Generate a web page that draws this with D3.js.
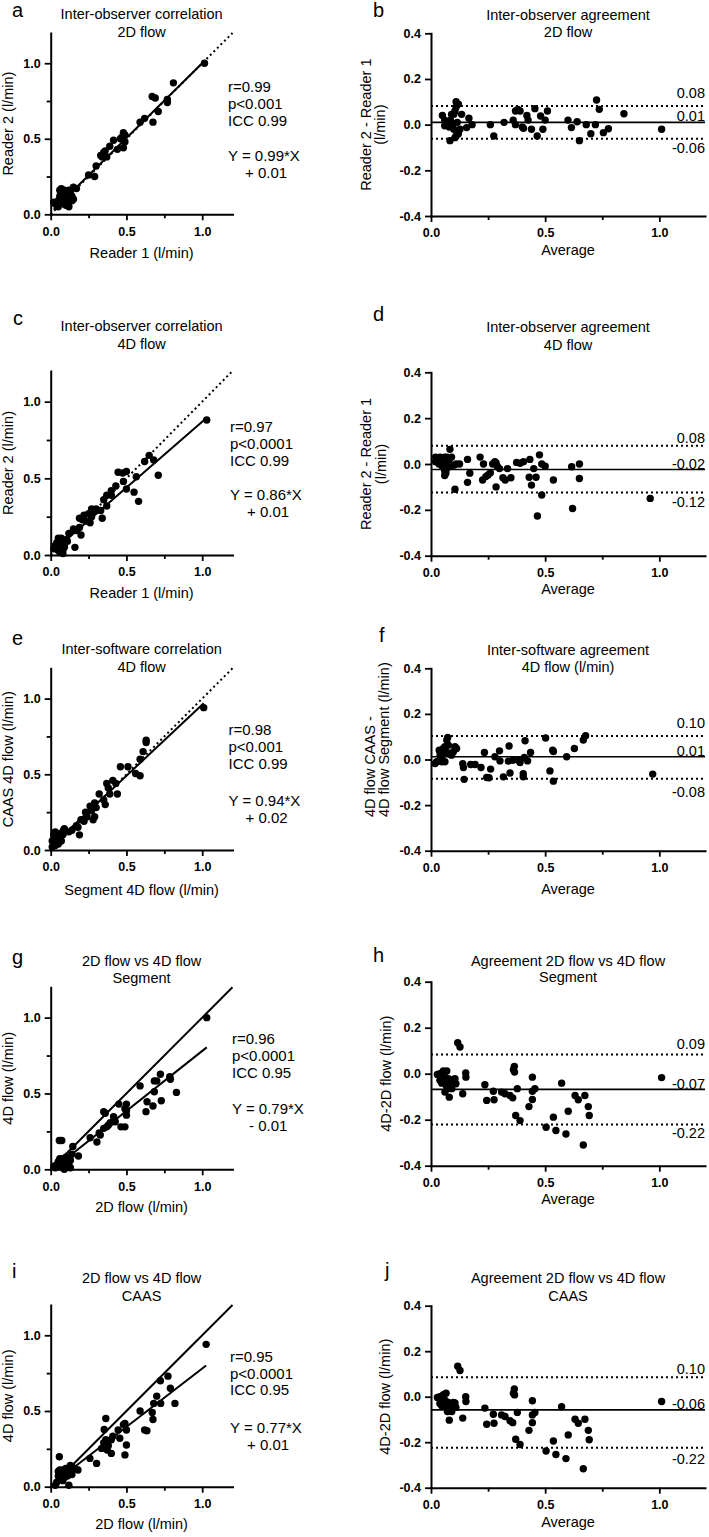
<!DOCTYPE html>
<html><head><meta charset="utf-8">
<script src="https://cdn.jsdelivr.net/npm/d3@7"></script>
<style>body{margin:0;background:#fff}</style>
</head><body>
<svg id="chart" width="709" height="1537"></svg>
<script>
// ---------------- DATA ----------------
// Panel a: inter-observer correlation 2D flow
const aReader1 = [1.015,0.81,0.67,0.69,0.77,0.77,0.71,0.675,0.62,0.59,0.48,0.49,0.46,0.47,0.49,0.48,0.415,0.44,0.36,0.39,0.33,0.34,0.35,0.37,0.30,0.29,0.25,0.15,0.17,
  0.02,0.03,0.04,0.05,0.05,0.06,0.06,0.07,0.07,0.08,0.08,0.09,0.09,0.10,0.10,0.11,0.11,0.12,0.12,0.13,0.13,0.14,0.14,0.15,0.10,0.08,0.12];
const aReader2 = [1.0,0.87,0.78,0.77,0.76,0.74,0.68,0.61,0.635,0.61,0.54,0.525,0.50,0.51,0.48,0.44,0.49,0.43,0.42,0.45,0.39,0.38,0.41,0.38,0.32,0.25,0.26,0.18,0.17,
  0.08,0.07,0.06,0.05,0.09,0.12,0.16,0.17,0.10,0.14,0.07,0.12,0.16,0.09,0.15,0.13,0.06,0.05,0.11,0.10,0.14,0.09,0.12,0.10,0.06,0.10,0.16];
// Panel b: inter-observer agreement 2D flow
const bAverage = [0.05,0.06,0.065,0.07,0.06,0.075,0.08,0.085,0.09,0.09,0.095,0.10,0.105,0.11,0.11,0.12,0.083,0.105,0.11,0.12,0.127,0.134,0.10,0.115,0.156,0.166,0.18,
  0.26,0.275,0.32,0.36,0.37,0.38,0.39,0.37,0.40,0.405,0.42,0.425,0.44,0.455,0.465,0.48,0.49,0.50,0.51,
  0.60,0.615,0.64,0.65,0.68,0.70,0.725,0.737,0.72,0.755,0.777,0.845,1.01];
const bDiff = [0.04,0.02,0.005,0.0,-0.005,0.01,-0.01,0.02,-0.005,0.045,0.0,0.045,0.06,0.077,0.10,0.09,-0.07,-0.057,-0.05,-0.04,-0.02,0.045,-0.02,0.01,-0.013,0.028,0.0,
  0.0,-0.05,0.01,0.02,0.06,0.067,0.06,0.0,-0.01,-0.016,0.04,0.02,-0.02,0.07,-0.05,0.038,-0.02,0.02,0.06,
  0.02,-0.013,0.013,-0.07,0.0,-0.04,0.108,0.067,0.0,-0.035,-0.018,0.048,-0.02];
const bLimits = [0.082, 0.01, -0.062];
const bLimitLabels = ["0.08", "0.01", "-0.06"];
// Panel c: inter-observer correlation 4D flow
const cReader1 = [1.03,0.65,0.68,0.71,0.62,0.565,0.55,0.58,0.445,0.475,0.50,0.48,0.50,0.43,0.40,0.37,0.40,0.35,0.37,0.33,0.34,0.30,0.28,0.27,0.26,0.25,0.27,0.21,0.19,0.22,0.19,0.17,0.15,0.12,0.16,0.20,0.30,0.24,
  0.02,0.03,0.04,0.05,0.06,0.06,0.07,0.08,0.09,0.10,0.05,0.04,0.08,0.07,0.09,0.03,0.11,0.06,0.08];
const cReader2 = [0.88,0.65,0.62,0.52,0.61,0.51,0.41,0.35,0.54,0.535,0.545,0.48,0.43,0.45,0.42,0.39,0.39,0.36,0.32,0.29,0.24,0.29,0.28,0.25,0.21,0.27,0.30,0.23,0.24,0.26,0.18,0.16,0.17,0.14,0.05,0.13,0.30,0.22,
  0.04,0.05,0.08,0.11,0.09,0.06,0.04,0.03,0.05,0.10,0.03,0.04,0.08,0.11,0.06,0.06,0.09,0.02,0.01];
// Panel d: inter-observer agreement 4D flow
const dAverage = [0.02,0.02,0.03,0.035,0.04,0.045,0.05,0.05,0.055,0.06,0.06,0.065,0.07,0.07,0.075,0.08,0.083,0.085,0.09,0.06,0.065,0.10,
  0.105,0.11,0.125,0.16,0.16,0.17,0.215,0.23,0.226,0.24,0.25,0.26,0.27,0.28,0.285,0.29,0.30,0.285,0.315,0.325,0.335,0.35,
  0.375,0.39,0.405,0.433,0.43,0.44,0.45,0.46,0.475,0.485,0.485,0.50,0.466,0.536,0.616,0.65,0.65,0.62,0.96];
const dDiff = [0.03,0.01,0.02,0.0,0.03,0.01,-0.01,0.02,0.0,0.03,-0.03,0.01,-0.02,0.03,0.0,0.02,0.064,-0.01,0.03,-0.05,-0.04,-0.005,
  -0.11,0.0,0.0,0.02,-0.08,-0.04,0.03,0.0,-0.07,-0.055,-0.048,-0.038,0.0,0.01,0.005,-0.01,-0.02,-0.10,-0.06,-0.07,-0.02,-0.06,
  0.007,0.003,0.01,0.02,-0.058,-0.092,-0.02,-0.058,0.04,-0.135,0.0,-0.01,-0.227,-0.07,-0.012,0.0,-0.063,-0.194,-0.15];
const dLimits = [0.08, -0.024, -0.124];
const dLimitLabels = ["0.08", "-0.02", "-0.12"];
// Panel e: inter-software correlation 4D flow
const eSegment = [1.01,0.63,0.63,0.61,0.59,0.59,0.56,0.51,0.46,0.43,0.41,0.37,0.38,0.44,0.39,0.36,0.35,0.32,0.29,0.29,0.28,0.26,0.24,0.23,0.20,0.18,0.19,0.14,0.085,0.12,0.30,0.27,0.22,0.17,
  0.01,0.02,0.02,0.03,0.03,0.04,0.04,0.05,0.05,0.06,0.07,0.08,0.01,0.03,0.06,0.09];
const eCaas = [0.94,0.725,0.71,0.65,0.60,0.49,0.505,0.55,0.55,0.44,0.46,0.44,0.41,0.37,0.37,0.30,0.33,0.37,0.31,0.22,0.20,0.29,0.22,0.25,0.20,0.15,0.10,0.13,0.13,0.12,0.28,0.26,0.19,0.16,
  0.02,0.05,0.10,0.12,0.08,0.06,0.11,0.04,0.09,0.07,0.06,0.10,0.06,0.03,0.11,0.14];
// Panel f: inter-software agreement 4D flow
const fAverage = [0.018,0.025,0.036,0.04,0.047,0.054,0.061,0.066,0.069,0.073,0.076,0.061,0.08,0.09,0.098,0.105,0.112,0.047,0.04,0.054,
  0.139,0.142,0.145,0.174,0.193,0.219,0.234,0.244,0.254,0.261,0.28,0.30,0.302,0.317,0.339,0.342,0.346,0.358,0.382,0.39,0.404,0.404,0.409,0.412,0.423,0.436,
  0.502,0.521,0.533,0.536,0.536,0.594,0.628,0.667,0.677,0.971];
const fDiff = [-0.018,-0.01,0.041,0.019,0.012,0.048,0.056,0.034,0.085,0.097,0.063,-0.01,0.026,0.019,0.034,0.056,0.048,-0.01,0.034,0.026,
  -0.018,-0.035,-0.087,-0.022,-0.022,-0.035,0.031,-0.079,-0.08,-0.042,0.012,0.038,-0.006,-0.076,-0.007,0.059,-0.059,-0.003,-0.003,-0.013,-0.062,-0.076,0.009,0.082,-0.006,0.031,
  0.094,-0.05,0.041,0.035,-0.095,0.012,0.048,0.085,0.104,-0.064];
const fLimits = [0.103, 0.012, -0.084];
const fLimitLabels = ["0.10", "0.01", "-0.08"];
// Panel g: 2D flow vs 4D flow, Segment
const g2D = [1.03,0.83,0.724,0.786,0.79,0.684,0.70,0.684,0.73,0.675,0.636,0.629,0.59,0.50,0.50,0.49,0.50,0.464,0.49,0.45,0.415,0.426,0.393,0.37,0.35,0.36,0.35,0.327,0.305,0.26,0.183,0.146,0.057,0.073,0.38,0.32,
  0.02,0.03,0.04,0.05,0.06,0.06,0.07,0.08,0.08,0.09,0.10,0.10,0.11,0.12,0.12,0.13,0.13,0.14,0.09,0.07];
const g4D = [1.0,0.507,0.627,0.61,0.594,0.583,0.583,0.511,0.452,0.417,0.445,0.38,0.55,0.43,0.386,0.40,0.357,0.28,0.28,0.43,0.346,0.314,0.307,0.28,0.27,0.37,0.38,0.226,0.18,0.208,0.088,0.15,0.19,0.19,0.29,0.24,
  0.02,0.01,0.03,0.05,0.07,0.02,0.04,0.06,0.01,0.03,0.05,0.08,0.02,0.04,0.08,0.06,0.01,0.10,0.00,0.07];
// Panel h: agreement 2D vs 4D, Segment
const hAverage = [0.028,0.039,0.047,0.054,0.061,0.069,0.066,0.072,0.08,0.083,0.091,0.098,0.105,0.109,0.117,0.127,0.139,0.152,0.153,0.039,0.054,0.076,0.061,
  0.236,0.244,0.273,0.276,0.309,0.324,0.346,0.358,0.361,0.365,0.366,0.371,0.378,0.39,0.429,0.444,0.444,0.444,0.455,
  0.504,0.536,0.547,0.572,0.591,0.601,0.631,0.645,0.674,0.689,0.693,0.667,1.01];
const hDiff = [-0.003,-0.029,-0.041,0.012,-0.015,0.012,-0.051,-0.065,-0.102,-0.051,-0.065,-0.025,-0.022,-0.044,0.135,0.116,-0.087,0.003,-0.015,0.0,-0.029,-0.022,-0.08,
  -0.048,-0.116,-0.076,-0.113,-0.08,-0.087,-0.095,-0.105,0.017,0.032,0.007,-0.182,-0.065,-0.204,-0.143,-0.015,-0.076,-0.112,-0.065,
  -0.233,-0.189,-0.247,-0.041,-0.262,-0.163,-0.095,-0.113,-0.095,-0.143,-0.182,-0.31,-0.017];
const hLimits = [0.084, -0.068, -0.221];
const hLimitLabels = ["0.09", "-0.07", "-0.22"];
// Panel i: 2D flow vs 4D flow, CAAS
const i2D = [1.026,0.82,0.79,0.774,0.724,0.726,0.70,0.68,0.67,0.675,0.59,0.62,0.635,0.49,0.50,0.50,0.49,0.456,0.445,0.364,0.353,0.364,0.373,0.40,0.41,0.40,0.336,0.303,0.259,0.057,0.48,0.35,0.38,
  0.18,0.16,0.14,0.13,0.12,0.11,0.10,0.09,0.08,0.07,0.06,0.05,0.05,0.04,0.03,0.12,0.10,0.08,0.06,0.14,0.11];
const i4D = [0.94,0.55,0.65,0.73,0.70,0.55,0.598,0.55,0.49,0.444,0.50,0.374,0.37,0.418,0.374,0.275,0.21,0.32,0.374,0.45,0.378,0.31,0.242,0.22,0.334,0.31,0.253,0.154,0.187,0.198,0.41,0.29,0.27,
  0.11,0.12,0.13,0.14,0.10,0.07,0.09,0.06,0.11,0.08,0.05,0.10,0.07,0.03,0.01,0.01,0.12,0.04,0.11,0.08,0.12];
// Panel j: agreement 2D vs 4D, CAAS
const jAverage = [0.028,0.039,0.047,0.054,0.066,0.069,0.08,0.083,0.098,0.105,0.109,0.117,0.127,0.139,0.152,0.153,0.061,0.072,0.091,0.039,0.076,
  0.236,0.244,0.273,0.276,0.309,0.324,0.346,0.358,0.361,0.365,0.366,0.371,0.378,0.39,0.429,0.444,0.444,0.444,0.455,
  0.504,0.536,0.547,0.572,0.591,0.601,0.631,0.645,0.674,0.689,0.693,0.667,1.01];
const jDiff = [-0.003,-0.03,-0.04,0.009,0.015,-0.047,-0.103,-0.05,-0.025,-0.028,-0.047,0.134,0.115,-0.094,0.0,-0.021,-0.015,-0.065,-0.065,0.0,-0.025,
  -0.05,-0.121,-0.077,-0.117,-0.08,-0.087,-0.106,-0.114,0.015,0.034,0.008,-0.187,-0.069,-0.21,-0.148,-0.018,-0.08,-0.114,-0.069,
  -0.239,-0.195,-0.254,-0.044,-0.272,-0.168,-0.099,-0.117,-0.099,-0.148,-0.189,-0.317,-0.021];
const jLimits = [0.086, -0.058, -0.224];
const jLimitLabels = ["0.10", "-0.06", "-0.22"];

// Regression fits [slope, intercept] and stats texts
const aFit = [0.99, 0.01], cFit = [0.86, 0.01], eFit = [0.94, 0.02], gFit = [0.79, -0.01], iFit = [0.77, 0.01];
const aStats = ["r=0.99","p<0.001","ICC 0.99"], aEq = ["Y = 0.99*X","+ 0.01"];
const cStats = ["r=0.97","p<0.0001","ICC 0.99"], cEq = ["Y = 0.86*X","+ 0.01"];
const eStats = ["r=0.98","p<0.001","ICC 0.99"], eEq = ["Y = 0.94*X","+ 0.02"];
const gStats = ["r=0.96","p<0.0001","ICC 0.95"], gEq = ["Y = 0.79*X","- 0.01"];
const iStats = ["r=0.95","p<0.0001","ICC 0.95"], iEq = ["Y = 0.77*X","+ 0.01"];

// Tick values
const corrTicks = [0, 0.5, 1.0], corrMinorTicks = [0.25, 0.75];
const baXTicks = [0, 0.5, 1.0], baXMinorTicks = [0.25, 0.75];
const baYTicks = [-0.4, -0.2, 0, 0.2, 0.4];

// ---------------- LAYOUT ----------------
const FONT = "'Liberation Sans', Arial, Helvetica, sans-serif";
const svg = d3.select("#chart").style("font-family", FONT);

const corrPanels = [
  {letter:"a", xs:aReader1, ys:aReader2, fit:aFit, stats:aStats, eq:aEq, identity:"dotted",
   title:["Inter-observer correlation","2D flow"], xTitle:"Reader 1 (l/min)", yTitle:"Reader 2 (l/min)",
   yB:214.3, yT:33, titleY:[19.3,36.7], letterPos:[12,17.3], statsX:228, statsY:92.3, eqY:160.7, xTitleY:257.7},
  {letter:"c", xs:cReader1, ys:cReader2, fit:cFit, stats:cStats, eq:cEq, identity:"dotted",
   title:["Inter-observer correlation","4D flow"], xTitle:"Reader 1 (l/min)", yTitle:"Reader 2 (l/min)",
   yB:555, yT:371, titleY:[330.7,349.3], letterPos:[13,325], statsX:230, statsY:432.3, eqY:500, xTitleY:597.7},
  {letter:"e", xs:eSegment, ys:eCaas, fit:eFit, stats:eStats, eq:eEq, identity:"dotted",
   title:["Inter-software correlation","4D flow"], xTitle:"Segment 4D flow (l/min)", yTitle:"CAAS 4D flow (l/min)",
   yB:850, yT:668.3, titleY:[654,671.7], letterPos:[12,645], statsX:228.5, statsY:735, eqY:805.7, xTitleY:895.4},
  {letter:"g", xs:g2D, ys:g4D, fit:gFit, stats:gStats, eq:gEq, identity:"solid",
   title:["2D flow vs 4D flow","Segment"], xTitle:"2D flow (l/min)", yTitle:"4D flow (l/min)",
   yB:1169.3, yT:987.3, titleY:[966,983], letterPos:[12,964], statsX:232, statsY:1044, eqY:1114, xTitleY:1212},
  {letter:"i", xs:i2D, ys:i4D, fit:iFit, stats:iStats, eq:iEq, identity:"solid",
   title:["2D flow vs 4D flow","CAAS"], xTitle:"2D flow (l/min)", yTitle:"4D flow (l/min)",
   yB:1486.7, yT:1305, titleY:[1283.3,1300.7], letterPos:[12,1278], statsX:230, statsY:1361.7, eqY:1432.7, xTitleY:1528.7}
];

const baPanels = [
  {letter:"b", xs:bAverage, ys:bDiff, limits:bLimits, labels:bLimitLabels, labelOff:[-8,-1,14.4],
   title:["Inter-observer agreement","2D flow"], yTitle:["Reader 2 - Reader 1","(l/min)"], yTitleX:[370.5,385], yTitleAnchor:"middle",
   yB:216, yT:33.3, titleY:[20,37.3], letterPos:[373,17.3], xTitleY:255.4},
  {letter:"d", xs:dAverage, ys:dDiff, limits:dLimits, labels:dLimitLabels, labelOff:[-2.4,-1,14.4],
   title:["Inter-observer agreement","4D flow"], yTitle:["Reader 2 - Reader 1","(l/min)"], yTitleX:[371,385.5], yTitleAnchor:"middle",
   yB:555.7, yT:372.3, titleY:[332.3,350], letterPos:[373,320.7], xTitleY:593.7},
  {letter:"f", xs:fAverage, ys:fDiff, limits:fLimits, labels:fLimitLabels, labelOff:[-7.7,-0.7,18.3],
   title:["Inter-software agreement","4D flow (l/min)"], yTitle:["4D flow CAAS -","4D flow Segment (l/min)"], yTitleX:[375,389], yTitleAnchor:"start", yTitleStart:817,
   yB:850.7, yT:668.3, titleY:[655,672], letterPos:[379,641.7], xTitleY:893.7},
  {letter:"h", xs:hAverage, ys:hDiff, limits:hLimits, labels:hLimitLabels, labelOff:[-5.7,-0.7,13],
   title:["Agreement 2D flow vs 4D flow","Segment"], yTitle:["4D-2D flow (l/min)"], yTitleX:[391], yTitleAnchor:"middle",
   yB:1165.7, yT:981.7, titleY:[965.7,982], letterPos:[373,961.7], xTitleY:1203.7},
  {letter:"j", xs:jAverage, ys:jDiff, limits:jLimits, labels:jLimitLabels, labelOff:[-2.7,-1,16],
   title:["Agreement 2D flow vs 4D flow","CAAS"], yTitle:["4D-2D flow (l/min)"], yTitleX:[389.5], yTitleAnchor:"middle",
   yB:1487.7, yT:1305.7, titleY:[1283.3,1300.7], letterPos:[385,1276.7], xTitleY:1527}
];

const CORR_X = [50.7, 232.5], BA_X = [431, 705];
const fmt = d => (Math.abs(d) < 1e-9 ? 0 : d).toFixed(1);

function styleAxis(sel) {
  sel.select(".domain").attr("stroke", "#000").attr("stroke-width", 2).attr("stroke-linecap", "square");
  sel.selectAll(".tick line").attr("stroke", "#000").attr("stroke-width", 1.8);
  sel.selectAll(".tick text").attr("fill", "#000").style("font-family", FONT)
     .style("font-size", "12.5px").style("font-weight", "bold");
}

function drawAxes(g, x, y, yB, xTicks, xMinor, yTicks, yMinor) {
  const xAx = g.append("g").attr("transform", `translate(0,${yB})`)
    .call(d3.axisBottom(x).tickValues(xTicks).tickFormat(fmt).tickSize(6).tickSizeOuter(0).tickPadding(6.5));
  styleAxis(xAx);
  const xMin = g.append("g").attr("transform", `translate(0,${yB})`)
    .call(d3.axisBottom(x).tickValues(xMinor).tickFormat("").tickSize(4).tickSizeOuter(0));
  xMin.select(".domain").remove();
  xMin.selectAll(".tick line").attr("stroke", "#000").attr("stroke-width", 1.8);
  const yAx = g.append("g").attr("transform", `translate(${x.range()[0]},0)`)
    .call(d3.axisLeft(y).tickValues(yTicks).tickFormat(fmt).tickSize(6).tickSizeOuter(0).tickPadding(4));
  styleAxis(yAx);
  if (yMinor.length) {
    const yMin = g.append("g").attr("transform", `translate(${x.range()[0]},0)`)
      .call(d3.axisLeft(y).tickValues(yMinor).tickFormat("").tickSize(4).tickSizeOuter(0));
    yMin.select(".domain").remove();
    yMin.selectAll(".tick line").attr("stroke", "#000").attr("stroke-width", 1.8);
  }
}

function addText(g, x, y, txt, size, opts = {}) {
  return g.append("text").attr("x", x).attr("y", y).text(txt)
    .attr("fill", "#000").style("font-family", FONT).style("font-size", size + "px")
    .attr("text-anchor", opts.anchor || "start")
    .style("font-weight", opts.bold ? "bold" : "normal");
}

function drawCommon(g, p, cx) {
  addText(g, p.letterPos[0], p.letterPos[1], p.letter, 20);
  p.title.forEach((t, k) => addText(g, cx, p.titleY[k], t, 14.5, {anchor: "middle"}));
}

// ---------------- CORRELATION PANELS ----------------
corrPanels.forEach(p => {
  const g = svg.append("g");
  const x = d3.scaleLinear().domain([0, 1.2]).range(CORR_X);
  const y = d3.scaleLinear().domain([0, 1.2]).range([p.yB, p.yT]);
  const line = d3.line().x(d => x(d[0])).y(d => y(d[1]));
  // identity line
  const idl = g.append("path").datum([[0, 0], [1.2, 1.2]]).attr("d", line)
    .attr("fill", "none").attr("stroke", "#000").attr("stroke-width", 2);
  if (p.identity === "dotted") idl.attr("stroke-dasharray", "2,3");
  // regression line
  const ext = d3.extent(p.xs);
  g.append("path").datum(ext.map(v => [v, p.fit[0] * v + p.fit[1]])).attr("d", line)
    .attr("fill", "none").attr("stroke", "#000").attr("stroke-width", 2);
  // points
  g.append("g").selectAll("circle").data(p.xs.map((v, k) => [v, p.ys[k]])).join("circle")
    .attr("cx", d => x(d[0])).attr("cy", d => y(d[1])).attr("r", 3.7).attr("fill", "#000");
  drawAxes(g, x, y, p.yB, corrTicks, corrMinorTicks, corrTicks, corrMinorTicks);
  const cx = (CORR_X[0] + CORR_X[1]) / 2;
  drawCommon(g, p, cx);
  addText(g, cx, p.xTitleY, p.xTitle, 14.5, {anchor: "middle"});
  g.append("text").attr("transform", `translate(12.5,${(p.yB + p.yT) / 2}) rotate(-90)`)
    .attr("text-anchor", "middle").style("font-family", FONT).style("font-size", "14.5px").text(p.yTitle);
  p.stats.forEach((t, k) => addText(g, p.statsX, p.statsY + k * 16.8, t, 15));
  addText(g, p.statsX, p.eqY, p.eq[0], 15);
  addText(g, p.statsX + 17, p.eqY + 17.3, p.eq[1], 15);
});

// ---------------- BLAND-ALTMAN PANELS ----------------
baPanels.forEach(p => {
  const g = svg.append("g");
  const x = d3.scaleLinear().domain([0, 1.2]).range(BA_X);
  const y = d3.scaleLinear().domain([-0.4, 0.4]).range([p.yB, p.yT]);
  p.limits.forEach((v, k) => {
    const l = g.append("line").attr("x1", x(0)).attr("x2", x(1.2)).attr("y1", y(v)).attr("y2", y(v))
      .attr("stroke", "#000").attr("stroke-width", k === 1 ? 1.7 : 2);
    if (k !== 1) l.attr("stroke-dasharray", "2,3");
    addText(g, x(1.2), y(v) + p.labelOff[k], p.labels[k], 14.5, {anchor: "end"});
  });
  g.append("g").selectAll("circle").data(p.xs.map((v, k) => [v, p.ys[k]])).join("circle")
    .attr("cx", d => x(d[0])).attr("cy", d => y(d[1])).attr("r", 3.7).attr("fill", "#000");
  drawAxes(g, x, y, p.yB, baXTicks, baXMinorTicks, baYTicks, []);
  const cx = (BA_X[0] + BA_X[1]) / 2;
  drawCommon(g, p, cx);
  addText(g, cx, p.xTitleY, "Average", 14.5, {anchor: "middle"});
  const cy = (p.yB + p.yT) / 2;
  p.yTitle.forEach((t, k) => {
    const yy = p.yTitleAnchor === "start" ? p.yTitleStart : cy;
    g.append("text").attr("transform", `translate(${p.yTitleX[k]},${yy}) rotate(-90)`)
      .attr("text-anchor", p.yTitleAnchor).style("font-family", FONT).style("font-size", "14.5px").text(t);
  });
});
</script>
</body></html>
